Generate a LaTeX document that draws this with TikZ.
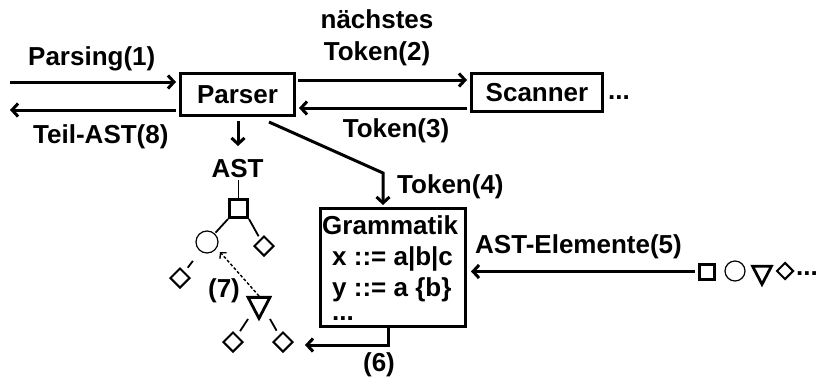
\documentclass[tikz,border=0pt]{standalone}
\usepackage{fontspec}
\setmainfont{Liberation Sans}
\usetikzlibrary{arrows.meta,shapes.geometric}
\begin{document}
\begin{tikzpicture}[x=1pt,y=-1pt,
  lbl/.style={font=\fontsize{26}{30}\selectfont\bfseries, inner sep=0pt},
  box/.style={draw, line width=3pt, inner sep=0pt, font=\fontsize{26}{30}\selectfont\bfseries},
  arr/.style={line width=3pt, -{Straight Barb[length=6pt,width=13pt]}},
  thin/.style={line width=1.8pt},
  sqshape/.style={draw, line width=3pt, minimum size=18pt, inner sep=0pt},
  circshape/.style={draw, circle, line width=1.2pt, minimum size=22pt, inner sep=0pt},
  diashape/.style={draw, diamond, line width=2pt, minimum size=20pt, inner sep=0pt},
  trishape/.style={draw, isosceles triangle, shape border rotate=-90, isosceles triangle apex angle=55, line width=2.8pt, minimum height=21pt, inner sep=0pt},
  dasharr/.style={line width=1.4pt, dash pattern=on 3pt off 2pt, -{Straight Barb[length=4pt,width=9pt]}}
]
\useasboundingbox (0,0) rectangle (822,383);

% main boxes
\node[box, minimum width=114pt, minimum height=42pt] (parser) at (237.5,94.5) {Parser};
\node[box, minimum width=131pt, minimum height=38pt] (scanner) at (537,92.5) {Scanner};
\node[lbl, anchor=base west] (sdots) at (608,99) {...};
\node[draw, line width=3pt, minimum width=145pt, minimum height=118pt, inner sep=0pt] (gram) at (393,267.5) {};
\node[lbl, anchor=base west] (g1) at (322,234) {Grammatik};
\node[lbl, anchor=base west] (g2) at (332,265) {x ::= a|b|c};
\node[lbl, anchor=base west] (g3) at (332,296) {y ::= a \{b\}};
\node[lbl, anchor=base west] (g4) at (332,320) {...};

% top labels
\node[lbl, anchor=base west] (l1) at (28,65) {Parsing(1)};
\node[lbl, anchor=base west] (l8) at (33,143) {Teil-AST(8)};
\node[lbl, anchor=base] (l2a) at (377,28) {nächstes};
\node[lbl, anchor=base] (l2b) at (377,60) {Token(2)};
\node[lbl, anchor=base] (l3) at (396,137) {Token(3)};
\node[lbl, anchor=base west] (l4) at (397,193) {Token(4)};
\node[lbl, anchor=base west] (l5) at (475,253) {AST-Elemente(5)};
\node[lbl, anchor=base] (l6) at (379,371) {(6)};
\node[lbl, anchor=base] (l7) at (224,297) {(7)};

% outer arrows
\coordinate (in1) at (10,82);
\coordinate (out8) at (10,110);
\draw[arr, shorten >=3pt] (in1) -- (in1 -| parser.west);
\draw[arr, shorten <=3pt] (out8 -| parser.west) -- (out8);
\draw[arr, shorten <=2pt, shorten >=3pt] (parser.east |- 0,80) -- (scanner.west |- 0,80);
\draw[arr, shorten <=3pt, shorten >=3pt] (scanner.west |- 0,108) -- (parser.east |- 0,108);

% AST tree
\node[lbl, anchor=base] (ast) at (237.5,177) {AST};
\draw[arr, shorten <=4pt, shorten >=2pt] (parser.south -| 238,0) -- (238,148);
\node[sqshape] (sq) at (238.5,208.5) {};
\node[circshape] (ci) at (207,242) {};
\node[diashape] (d1) at (264,246) {};
\node[diashape] (d2) at (180,278) {};
\node[trishape] (tr) at (259,304) {};
\node[diashape] (d3) at (233,342) {};
\node[diashape] (d4) at (283,342) {};
\draw[thin] (ast.south -| sq.north) ++(0,3) -- (sq.north);
\draw[thin, shorten >=1pt] (sq.south west) -- (ci);
\draw[thin, shorten >=3pt] (sq.south east) -- (d1);
\draw[thin, shorten <=12pt, shorten >=5pt] (ci) -- (d2);
\draw[thin, shorten >=5pt] (248,319) -- (d3);
\draw[thin, shorten >=5pt] (270,319) -- (d4);
\coordinate (t7) at (220,252);
\draw[dasharr] (tr.north) -- (t7);

% Parser -> Grammatik
\coordinate (bend) at (383,173);
\draw[arr, shorten >=2pt] ([xshift=-27pt,yshift=-5pt]parser.south east) -- (bend) -- (bend |- gram.north);

% AST elements
\node[sqshape, minimum size=15pt] (e1) at (706.5,271.5) {};
\node[circshape, minimum size=20pt] (e2) at (735,271) {};
\node[trishape, minimum height=18pt] (e3) at (762,272) {};
\node[diashape, minimum size=17pt] (e4) at (785,271) {};
\node[lbl, anchor=base west] (edots) at (796,275) {...};
\draw[arr, shorten <=3pt, shorten >=4pt] (e1.west) -- (e1.west -| gram.east);

% (6)
\coordinate (c6) at (305,345);
\draw[arr] (gram.south -| 388,0) -- (388,345) -- (c6);
\end{tikzpicture}
\end{document}
